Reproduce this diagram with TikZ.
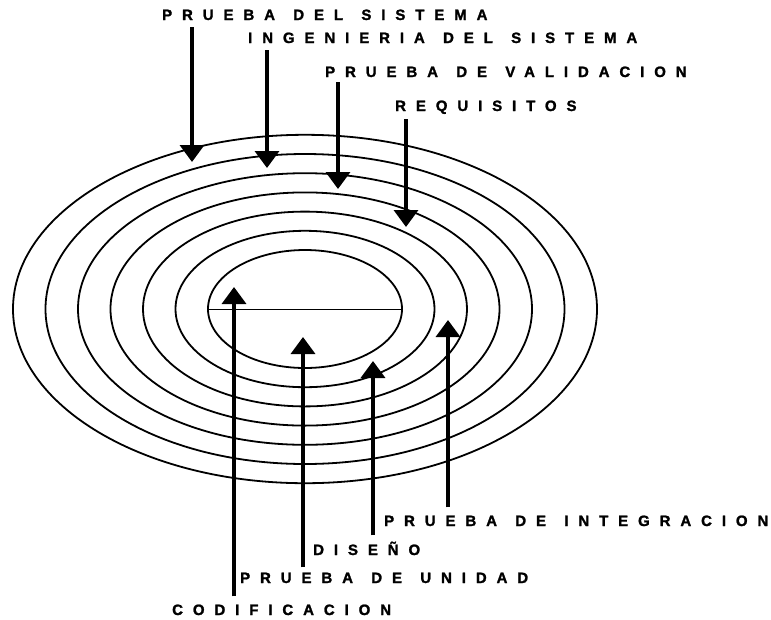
\documentclass[tikz,border=0pt]{standalone}
\usepackage{fontspec}
\newfontfamily\lblfont[UprightFont=* Bold, FakeBold=1.5, LetterSpace=66, WordSpace=1.3]{Liberation Sans}
\usetikzlibrary{arrows.meta}

\begin{document}
\begin{tikzpicture}[
  x=1pt, y=1pt,
  every node/.style={font=\lblfont\fontsize{15pt}{17pt}\selectfont},
  lbl/.style={inner sep=0pt, anchor=base west},
  ring/.style={line width=1.8pt},
  arr/.style={-{Triangle[width=24pt,length=17pt]}, line width=3.5pt},
]
  \useasboundingbox (0,0) rectangle (771,-619);
  \coordinate (c) at (305,-309);
  % Rings
  \foreach \k in {0,...,6}
    \draw[ring] (c) ellipse [x radius={97+32.5*\k}, y radius={59+19.2*\k}];
  \draw[line width=1pt] (c) ++(-97,0) -- ++(194,0);
  % Labels — top
  \node[lbl] (sistema)    at (162,-20)  {PRUEBA DEL SISTEMA};
  \node[lbl] (ingenieria) at (248,-43)  {INGENIERIA DEL SISTEMA};
  \node[lbl] (validacion) at (325,-77)  {PRUEBA DE VALIDACION};
  \node[lbl] (requisitos) at (395,-111) {REQUISITOS};
  % Labels — bottom
  \node[lbl] (integracion)  at (384,-526) {PRUEBA DE INTEGRACION};
  \node[lbl] (diseno)       at (313,-555) {DISEÑO};
  \node[lbl] (unidad)       at (240,-583) {PRUEBA DE UNIDAD};
  \node[lbl] (codificacion) at (172,-615) {CODIFICACION};
  % Arrow tips on the rings
  \coordinate (tsis) at (192,-162);
  \coordinate (ting) at (267,-168);
  \coordinate (tval) at (338,-189);
  \coordinate (treq) at (406,-227);
  \coordinate (tint) at (448,-320);
  \coordinate (tdis) at (373,-361);
  \coordinate (tuni) at (303,-337);
  \coordinate (tcod) at (234,-287);
  % Arrows
  \draw[arr, shorten <=7pt] (sistema.south -| tsis)    -- (tsis);
  \draw[arr, shorten <=7pt] (ingenieria.south -| ting) -- (ting);
  \draw[arr, shorten <=5pt] (validacion.south -| tval) -- (tval);
  \draw[arr, shorten <=5pt] (requisitos.south -| treq) -- (treq);
  \draw[arr, shorten <=8pt] (integracion.north -| tint)  -- (tint);
  \draw[arr, shorten <=6pt] (diseno.north -| tdis)       -- (tdis);
  \draw[arr, shorten <=5pt] (unidad.north -| tuni)       -- (tuni);
  \draw[arr, shorten <=8pt] (codificacion.north -| tcod) -- (tcod);
\end{tikzpicture}
\end{document}
